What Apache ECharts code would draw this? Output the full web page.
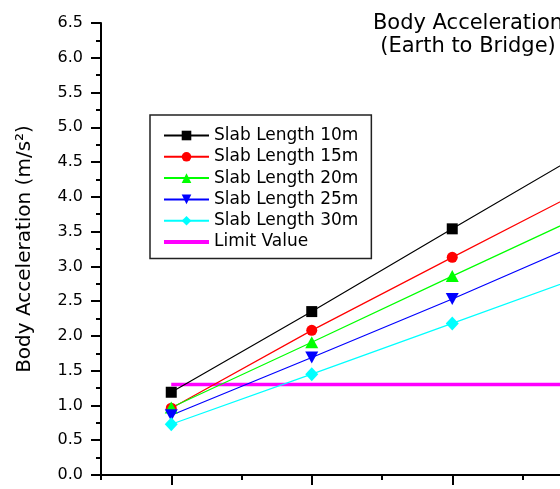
<!DOCTYPE html>
<html>
<head>
<meta charset="utf-8">
<script src="https://cdn.jsdelivr.net/npm/echarts@6/dist/echarts.min.js"></script>
<style>
  html, body { margin: 0; padding: 0; background: #fff; }
  #chart { width: 560px; height: 489px; }
</style>
</head>
<body>
<div id="chart"></div>
<script>
// values (x = case index, y = body acceleration m/s^2)
const xValues = [1, 2, 3, 4];
const slab10 = [1.19, 2.35, 3.54, 4.72];
const slab15 = [0.96, 2.08, 3.13, 4.17];
const slab20 = [0.97, 1.91, 2.86, 3.80];
const slab25 = [0.86, 1.69, 2.53, 3.41];
const slab30 = [0.73, 1.45, 2.18, 2.91];
const limitX = [1, 4.5];
const limitValue = 1.3;
const majorTicks = [1, 2, 3, 4];
const legendNames = ['Slab Length 10m', 'Slab Length 15m', 'Slab Length 20m',
  'Slab Length 25m', 'Slab Length 30m', 'Limit Value'];

const FONT = 'DejaVu Sans';

const toPairs = (ys) => ys.map((y, i) => [xValues[i], y]);

function slabSeries(name, ys, color, symbol, size, rotate) {
  return {
    name: name,
    type: 'line',
    data: toPairs(ys),
    symbol: symbol,
    symbolSize: size,
    symbolRotate: rotate || 0,
    lineStyle: { color: color, width: 1.2 },
    itemStyle: { color: color },
    z: 3,
  };
}

const chart = echarts.init(document.getElementById('chart'));
chart.setOption({
  animation: false,
  title: {
    text: 'Body Acceleration\n(Earth to Bridge)',
    left: 468,
    top: 12,
    padding: 0,
    textAlign: 'center',
    textStyle: { fontFamily: FONT, fontSize: 21, fontWeight: 'normal', color: '#000', lineHeight: 23 },
  },
  grid: {
    left: 101,
    top: 23,
    bottom: 14,
    right: -103,
    containLabel: false,
    outerBoundsMode: 'none',
  },
  legend: {
    orient: 'vertical',
    left: 150,
    top: 115,
    padding: [12, 13, 8, 12],
    itemWidth: 45,
    itemHeight: 12,
    itemGap: 4.3,
    borderColor: '#222',
    borderWidth: 1.5,
    selectedMode: false,
    data: legendNames.map((n) => (n === 'Limit Value'
      ? { name: n, lineStyle: { width: 4 }, itemStyle: { opacity: 0 } }
      : n)),
    textStyle: { fontFamily: FONT, fontSize: 17, color: '#000' },
  },
  xAxis: [
    {
      type: 'value',
      min: 0.5,
      max: 4.5,
      interval: 0.5,
      axisLine: { onZero: false, lineStyle: { color: '#000', width: 2 } },
      axisTick: { length: 5, lineStyle: { color: '#000', width: 2 } },
      axisLabel: { show: false },
      splitLine: { show: false },
    },
    {
      type: 'value',
      position: 'bottom',
      min: 0.5,
      max: 4.5,
      axisLine: { show: false, onZero: false },
      axisTick: { show: true, length: 10, customValues: majorTicks, lineStyle: { color: '#000', width: 2 } },
      axisLabel: { show: false },
      splitLine: { show: false },
    },
  ],
  yAxis: {
    type: 'value',
    min: 0,
    max: 6.5,
    interval: 0.5,
    name: 'Body Acceleration (m/s²)',
    nameLocation: 'middle',
    nameRotate: 90,
    nameGap: 66,
    nameTextStyle: { fontFamily: FONT, fontSize: 20, color: '#000' },
    axisLine: { onZero: false, lineStyle: { color: '#000', width: 2 } },
    axisTick: { length: 10, lineStyle: { color: '#000', width: 2 } },
    minorTick: { show: true, splitNumber: 2, length: 5, lineStyle: { color: '#000', width: 2 } },
    axisLabel: {
      fontFamily: FONT,
      fontSize: 16,
      color: '#000',
      margin: 18,
      formatter: (v) => v.toFixed(1),
    },
    splitLine: { show: false },
  },
  series: [
    slabSeries('Slab Length 10m', slab10, '#000000', 'rect', 11),
    slabSeries('Slab Length 15m', slab15, '#ff0000', 'circle', 11),
    slabSeries('Slab Length 20m', slab20, '#00ff00', 'triangle', [13, 12]),
    slabSeries('Slab Length 25m', slab25, '#0000ff', 'triangle', [13, 12], 180),
    slabSeries('Slab Length 30m', slab30, '#00ffff', 'diamond', [13, 14]),
    {
      name: 'Limit Value',
      type: 'line',
      data: limitX.map((x) => [x, limitValue]),
      symbol: 'none',
      lineStyle: { color: '#ff00ff', width: 3.5 },
      itemStyle: { color: '#ff00ff' },
      z: 2,
    },
  ],
});
</script>
</body>
</html>
